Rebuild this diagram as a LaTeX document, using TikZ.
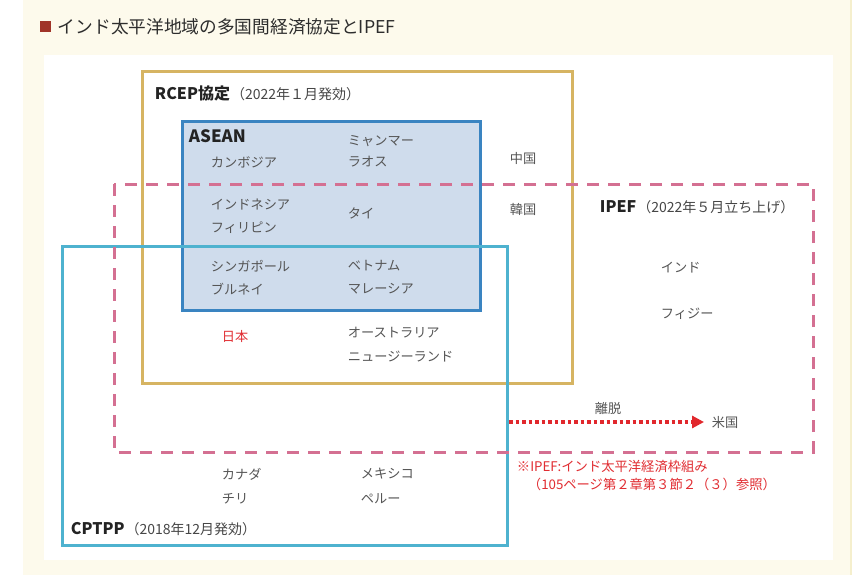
\documentclass[tikz,border=0pt]{standalone}
\usepackage{fontspec}
\setmainfont{Noto Sans CJK JP}
\usepackage{tikz}
\usetikzlibrary{arrows.meta}

\begin{document}
\begin{tikzpicture}[x=1pt,y=1pt,yscale=-1,
  cname/.style={anchor=west, inner sep=0.75pt, text={rgb,255:red,85;green,85;blue,85}, font=\fontsize{13.2}{15}\selectfont},
  head/.style={anchor=west, inner sep=0.75pt, text={rgb,255:red,35;green,35;blue,35}},
  rednote/.style={anchor=west, inner sep=0.75pt, text={rgb,255:red,225;green,45;blue,50}, font=\fontsize{13.3}{15}\selectfont}]
\useasboundingbox (0,0) rectangle (859,575);

%Shape: Background
\fill [color={rgb, 255:red, 253; green, 250; blue, 236 }] (23,0) rectangle (852,575) ;
\draw [color={rgb, 255:red, 245; green, 239; blue, 205 }, line width=1.5] (851,0) -- (851,575) ;
\fill [white] (44,55) rectangle (833,560) ;

%Title
\fill [color={rgb, 255:red, 160; green, 52; blue, 40 }] (40,21) rectangle (51,32) ;
\node [anchor=west, inner sep=0.75pt, text={rgb,255:red,45;green,45;blue,45}, font=\fontsize{17.7}{20}\selectfont] (title) at (57,27) {インド太平洋地域の多国間経済協定とIPEF};

%Shape: RCEP Rectangle
\draw [color={rgb, 255:red, 214; green, 180; blue, 98 }, line width=3] (142,72) rectangle (572,383) ;
%Shape: ASEAN Rectangle
\draw [color={rgb, 255:red, 58; green, 132; blue, 193 }, fill={rgb, 255:red, 207; green, 220; blue, 236 }, line width=3] (182,122) rectangle (480,310) ;
%Shape: CPTPP Rectangle
\draw [color={rgb, 255:red, 78; green, 178; blue, 207 }, line width=3] (62,246) rectangle (507,545) ;
%Shape: IPEF Rectangle
\draw [color={rgb, 255:red, 212; green, 112; blue, 146 }, line width=3, dash pattern=on 12pt off 9pt] (114,184) rectangle (813,452) ;

% Text Node
\node [head] (rcep) at (154,93) {{\bfseries\fontsize{16}{18}\selectfont RCEP協定}\hspace{1pt}{\fontsize{14}{16}\selectfont\color[RGB]{70,70,70}（2022年１月発効）}};
% Text Node
\node [head, font=\bfseries\fontsize{17}{19}\selectfont] (asean) at (188,136) {ASEAN};
% Text Node
\node [cname] (myanmar) at (347,141) {ミャンマー};
\node [cname] (cambodia) at (210,162) {カンボジア};
\node [cname] (laos) at (347,162) {ラオス};
\node [cname] (china) at (509,158) {中国};
\node [cname] (indonesia) at (210,204) {インドネシア};
\node [cname] (thai) at (347,213) {タイ};
\node [cname] (philippines) at (210,228) {フィリピン};
\node [cname] (korea) at (509,209) {韓国};
\node [cname] (singapore) at (210,266) {シンガポール};
\node [cname] (vietnam) at (347,266) {ベトナム};
\node [cname] (brunei) at (210,289) {ブルネイ};
\node [cname] (malaysia) at (347,289) {マレーシア};
\node [cname, text={rgb,255:red,225;green,45;blue,50}] (japan) at (221,336) {日本};
\node [cname] (australia) at (347,333) {オーストラリア};
\node [cname] (newzealand) at (347,357) {ニュージーランド};

% Text Node
\node [head] (ipef) at (599,207) {{\bfseries\fontsize{16}{18}\selectfont IPEF}\hspace{1pt}{\fontsize{14}{16}\selectfont\color[RGB]{70,70,70}（2022年５月立ち上げ）}};
\node [cname] (india) at (660,268) {インド};
\node [cname] (fiji) at (660,314) {フィジー};

% Withdrawal arrow
\node [cname] (usa) at (711,422) {米国};
\coordinate (leave) at (509,422) ;
\draw [color={rgb, 255:red, 225; green, 40; blue, 45 }, line width=3.5, dash pattern=on 3.5pt off 3pt, -{Triangle[length=12pt,width=12pt]}, shorten >=7pt] (leave) -- (usa.west) ;
\node [cname, anchor=center] (ridatsu) at (608,408) {離脱};

% Note
\node [rednote] (note1) at (516,467) {※IPEF:インド太平洋経済枠組み};
\node [rednote] (note2) at (527,484) {（105ページ第２章第３節２（３）参照）};

% CPTPP members
\node [cname] (canada) at (221,474) {カナダ};
\node [cname] (mexico) at (360,474) {メキシコ};
\node [cname] (chile) at (221,499) {チリ};
\node [cname] (peru) at (360,499) {ペルー};
% Text Node
\node [head] (cptpp) at (70,529) {{\bfseries\fontsize{16}{18}\selectfont CPTPP}\hspace{1pt}{\fontsize{14}{16}\selectfont\color[RGB]{70,70,70}（2018年12月発効）}};

\end{tikzpicture}
\end{document}
